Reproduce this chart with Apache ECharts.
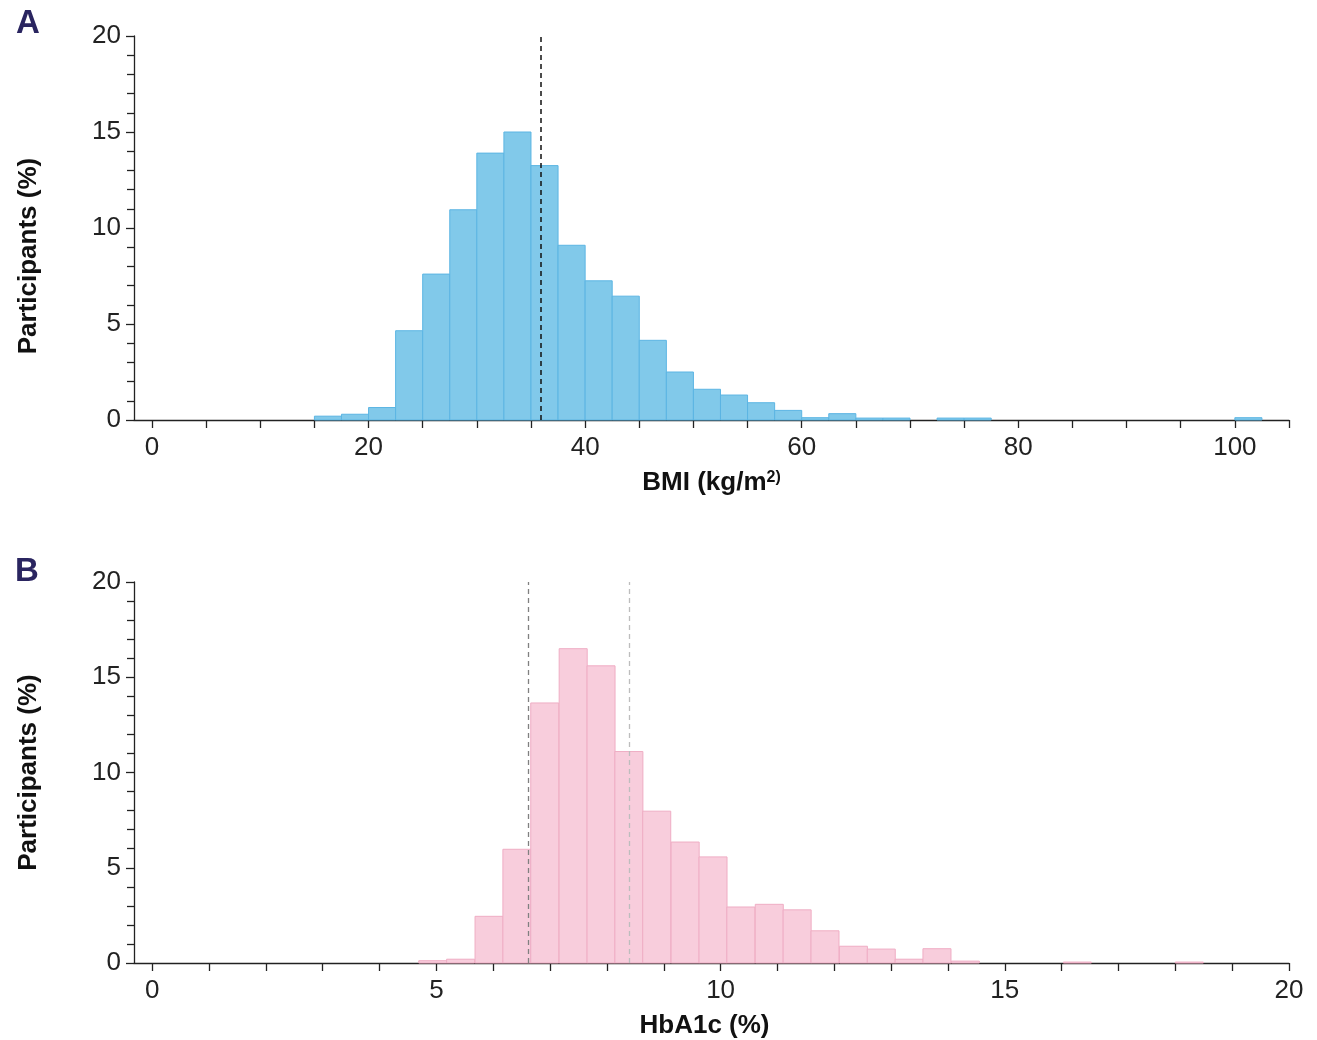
<!DOCTYPE html>
<html>
<head>
<meta charset="utf-8">
<script src="https://cdn.jsdelivr.net/npm/echarts@6/dist/echarts.min.js"></script>
<style>
html,body{margin:0;padding:0;background:#fff;}
#chart{width:1317px;height:1040px;}
</style>
</head>
<body>
<div id="chart"></div>
<script>
// ---- Panel A: BMI histogram (bin lower edges, bin width 2.5) ----
const bmiBinStart = [15, 17.5, 20, 22.5, 25, 27.5, 30, 32.5, 35, 37.5, 40, 42.5, 45, 47.5, 50, 52.5, 55, 57.5, 60, 62.5, 65, 67.5, 72.5, 75, 100];
const bmiValues   = [0.2, 0.3, 0.65, 4.65, 7.6, 10.95, 13.9, 15.0, 13.25, 9.1, 7.25, 6.45, 4.15, 2.5, 1.6, 1.3, 0.9, 0.5, 0.12, 0.33, 0.1, 0.1, 0.1, 0.1, 0.12];
const bmiBinWidth = 2.5;
const bmiRefLine = [35.9];
const bmiTicks  = [0, 5, 10, 15, 20, 25, 30, 35, 40, 45, 50, 55, 60, 65, 70, 75, 80, 85, 90, 95, 100, 105];
const bmiLabels = [0, 20, 40, 60, 80, 100];

// ---- Panel B: HbA1c histogram (bin lower edges, bin width 0.493) ----
const hbaBinStart = [4.69, 5.18, 5.68, 6.17, 6.66, 7.16, 7.65, 8.14, 8.63, 9.13, 9.62, 10.11, 10.61, 11.10, 11.59, 12.09, 12.58, 13.07, 13.56, 14.06, 16.03, 18.00];
const hbaValues   = [0.12, 0.2, 2.45, 5.97, 13.65, 16.5, 15.6, 11.1, 7.97, 6.35, 5.57, 2.94, 3.08, 2.79, 1.69, 0.88, 0.73, 0.2, 0.75, 0.1, 0.05, 0.05];
const hbaBinWidth = 0.493;
const hbaRefLines = [6.62, 8.39];
const hbaTicks  = [0, 1, 2, 3, 4, 5, 6, 7, 8, 9, 10, 11, 12, 13, 14, 15, 16, 17, 18, 19, 20];
const hbaLabels = [0, 5, 10, 15, 20];

const yTicksMajor = 5;

const FONT = '"Liberation Sans", Arial, Helvetica, sans-serif';
const AX = '#222';

function histRender(width, fill, stroke) {
  return function (params, api) {
    const x0 = api.value(0), y = api.value(1);
    const pBase = api.coord([x0, 0]);
    const pTop = api.coord([x0 + width, y]);
    return {
      type: 'rect',
      shape: { x: pBase[0], y: pTop[1], width: pTop[0] - pBase[0], height: pBase[1] - pTop[1] },
      style: { fill: fill, stroke: stroke, lineWidth: 1 }
    };
  };
}

function xAxisCfg(gridIndex, min, max, ticks, labels, name, namePad) {
  return {
    type: 'value', gridIndex: gridIndex, min: min, max: max,
    axisLine: { show: true, onZero: false, lineStyle: { color: AX, width: 1.3 } },
    axisTick: { show: true, length: 8, customValues: ticks, lineStyle: { color: AX, width: 1.3 } },
    axisLabel: { customValues: labels, fontSize: 26, color: AX, fontFamily: FONT, margin: 15 },
    splitLine: { show: false },
    name: name, nameLocation: 'middle', nameGap: 50,
    nameTextStyle: {
      fontFamily: FONT, color: '#111', padding: namePad,
      rich: {
        a: { fontSize: 26, fontWeight: 'bold', fontFamily: FONT, color: '#111' },
        s: { fontSize: 16, fontWeight: 'bold', fontFamily: FONT, color: '#111', verticalAlign: 'top', padding: [0, 0, 10, 0] }
      }
    }
  };
}

function yAxisCfg(gridIndex, namePad) {
  return {
    type: 'value', gridIndex: gridIndex, min: 0, max: 20, interval: yTicksMajor,
    axisLine: { show: true, onZero: false, lineStyle: { color: AX, width: 1.3 } },
    axisTick: { show: true, length: 8, lineStyle: { color: AX, width: 1.3 } },
    minorTick: { show: true, splitNumber: 5, length: 7, lineStyle: { color: AX, width: 1.3 } },
    axisLabel: { fontSize: 26, color: AX, fontFamily: FONT, margin: 13 },
    splitLine: { show: false },
    name: 'Participants (%)', nameLocation: 'middle', nameGap: 92,
    nameTextStyle: { fontSize: 26, fontWeight: 'bold', fontFamily: FONT, color: '#111', padding: namePad }
  };
}

const chart = echarts.init(document.getElementById('chart'), null, { renderer: 'canvas' });

const option = {
  animation: false,
  backgroundColor: '#fff',
  title: [
    { text: 'A', left: 11, top: 2, textStyle: { fontSize: 33, fontWeight: 'bold', color: '#2a2560', fontFamily: FONT } },
    { text: 'B', left: 10, top: 550, textStyle: { fontSize: 33, fontWeight: 'bold', color: '#2a2560', fontFamily: FONT } }
  ],
  grid: [
    { left: 134, right: 28, top: 36, height: 384 },
    { left: 134, right: 28, top: 582, height: 384 }
  ],
  xAxis: [
    xAxisCfg(0, -1.66, 105, bmiTicks, bmiLabels, '{a|BMI (kg/m}{s|2)}', [0, 0, 0, 0]),
    xAxisCfg(1, -0.32, 20, hbaTicks, hbaLabels, '{a|HbA1c (%)}', [0, 14, 0, 0])
  ],
  yAxis: [yAxisCfg(0, [0, 56, 0, 0]), yAxisCfg(1, [0, 0, 0, 0])],
  series: [
    {
      type: 'custom', xAxisIndex: 0, yAxisIndex: 0,
      renderItem: histRender(bmiBinWidth, '#81c9ea', '#5cb5e3'),
      encode: { x: 0, y: 1 },
      data: bmiBinStart.map((x, i) => [x, bmiValues[i]]),
      z: 2
    },
    {
      type: 'line', xAxisIndex: 0, yAxisIndex: 0, data: [], z: 5,
      markLine: {
        silent: true, symbol: 'none', label: { show: false },
        lineStyle: { color: '#111', type: [5, 4], width: 1.5 },
        data: bmiRefLine.map(v => ({ xAxis: v }))
      }
    },
    {
      type: 'custom', xAxisIndex: 1, yAxisIndex: 1,
      renderItem: histRender(hbaBinWidth, '#f8cddc', '#efadc4'),
      encode: { x: 0, y: 1 },
      data: hbaBinStart.map((x, i) => [x, hbaValues[i]]),
      z: 2
    },
    {
      type: 'line', xAxisIndex: 1, yAxisIndex: 1, data: [], z: 5,
      markLine: {
        silent: true, symbol: 'none', label: { show: false },
        data: [
          { xAxis: hbaRefLines[0], lineStyle: { color: '#808080', type: [5, 4], width: 1.3 } },
          { xAxis: hbaRefLines[1], lineStyle: { color: '#bdbdbd', type: [5, 4], width: 1.3 } }
        ]
      }
    }
  ]
};
chart.setOption(option);
</script>
</body>
</html>
